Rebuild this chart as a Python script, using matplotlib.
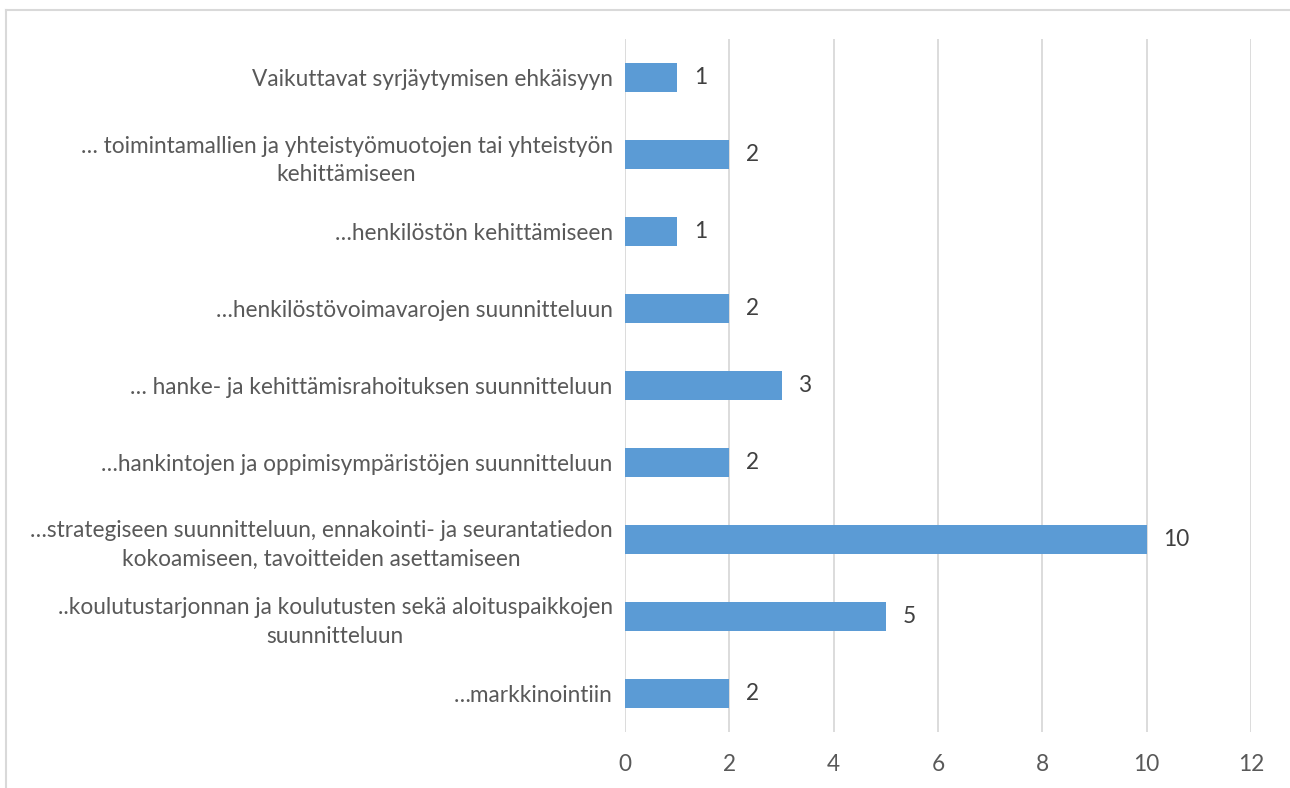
import matplotlib
matplotlib.use("Agg")
import matplotlib.pyplot as plt
from matplotlib.lines import Line2D

plt.rcParams['font.family'] = ['Lato', 'DejaVu Sans']

# categories listed bottom to top, like the chart's y axis
categories = [
    "…markkinointiin",
    "..koulutustarjonnan ja koulutusten sekä aloituspaikkojen\nsuunnitteluun",
    "…strategiseen suunnitteluun, ennakointi- ja seurantatiedon\nkokoamiseen, tavoitteiden asettamiseen",
    "…hankintojen ja oppimisympäristöjen suunnitteluun",
    "… hanke- ja kehittämisrahoituksen suunnitteluun",
    "…henkilöstövoimavarojen suunnitteluun",
    "…henkilöstön kehittämiseen",
    "… toimintamallien ja yhteistyömuotojen tai yhteistyön\nkehittämiseen",
    "Vaikuttavat syrjäytymisen ehkäisyyn",
]
values = [2, 5, 10, 2, 3, 2, 1, 2, 1]
xticks = [0, 2, 4, 6, 8, 10, 12]

text_col = '#595959'
grid_col = '#D9D9D9'
bar_col = '#5B9BD5'
fs = 16.3

fig = plt.figure(figsize=(12.9, 7.88), dpi=100)
ax = fig.add_axes([0.4845, 0.0711, 0.4853, 0.8794])

ypos = list(range(len(categories)))
ax.barh(ypos, values, height=0.37, color=bar_col, zorder=3)
for y, v in zip(ypos, values):
    ax.annotate(str(v), (v, y), xytext=(12, 0), textcoords='offset points',
                va='center', ha='left', fontsize=fs, color='#404040')

ax.set_xlim(0, 12)
ax.set_ylim(-0.5, len(categories) - 0.5)
ax.set_xticks(xticks)
ax.set_yticks(ypos)
ax.set_yticklabels(categories)
for lab in ax.get_yticklabels():
    lab.set_multialignment('center')
    lab.set_linespacing(1.45)
ax.tick_params(axis='both', length=0, labelsize=fs, labelcolor=text_col)
ax.tick_params(axis='y', pad=9)
ax.tick_params(axis='x', pad=16)
ax.grid(axis='x', color=grid_col, linewidth=1.3, zorder=0)
for s in ax.spines.values():
    s.set_visible(False)

# outer chart frame (top and left edges visible)
fig.add_artist(Line2D([6 / 1290, 1], [1 - 10 / 788] * 2, color=grid_col, lw=1.5))
fig.add_artist(Line2D([6 / 1290] * 2, [0, 1 - 10 / 788], color=grid_col, lw=1.5))

fig.savefig('out.png', dpi=100)
